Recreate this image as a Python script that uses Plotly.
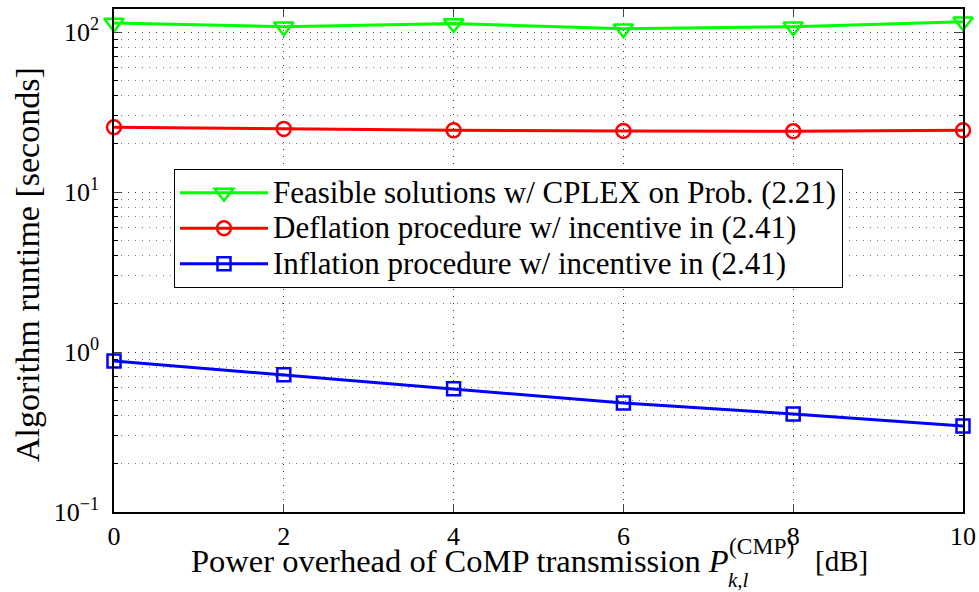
import plotly.graph_objects as go

x_db = [0, 2, 4, 6, 8, 10]
feasible = [114, 108, 113, 105, 108, 116]
deflation = [25.4, 24.8, 24.3, 24.1, 24.0, 24.3]
inflation = [0.88, 0.72, 0.59, 0.48, 0.41, 0.345]

names = ["Feasible solutions w/ CPLEX on Prob. (2.21)",
         "Deflation procedure w/ incentive in (2.41)",
         "Inflation procedure w/ incentive in (2.41)"]
y_tickvals = [0.1, 1, 10, 100]
y_ticktext = ["10<sup>−1</sup>", "10<sup>0</sup>", "10<sup>1</sup>", "10<sup>2</sup>"]
x_tickvals = [0, 2, 4, 6, 8, 10]

FONT = "Liberation Serif"
LEG_SIZE = 31


def big(s):
    return f"<span style='font-size:{LEG_SIZE}px'>{s}</span>"


fig = go.Figure()
fig.add_trace(go.Scatter(x=x_db, y=feasible, name=big(names[0]), mode="lines+markers",
                         cliponaxis=False,
                         line=dict(color="#00ff00", width=3),
                         marker=dict(symbol="triangle-down-open", size=17, line=dict(width=2.5, color="#00ff00"))))
fig.add_trace(go.Scatter(x=x_db, y=deflation, name=big(names[1]), mode="lines+markers",
                         cliponaxis=False,
                         line=dict(color="#ff0000", width=3),
                         marker=dict(symbol="circle-open", size=14, line=dict(width=2.5, color="#ff0000"))))
fig.add_trace(go.Scatter(x=x_db, y=inflation, name=big(names[2]), mode="lines+markers",
                         cliponaxis=False,
                         line=dict(color="#0000ff", width=3),
                         marker=dict(symbol="square-open", size=13, line=dict(width=2.5, color="#0000ff"))))

minor_y = [m * 10 ** e for e in (-1, 0, 1) for m in range(2, 10)]

L, R, T, B = 114, 16, 9, 80
W, H = 979, 592
pw, ph = W - L - R, H - T - B


def px(xp):
    return (xp - L) / pw


def py(yp):
    return (H - B - yp) / ph


fig.update_layout(
    width=W, height=H,
    margin=dict(l=L, r=R, t=T, b=B, autoexpand=False),
    paper_bgcolor="white", plot_bgcolor="white",
    font=dict(family=FONT, size=26, color="black"),
    showlegend=True,
    legend=dict(x=px(174), y=py(169), xanchor="left", yanchor="top",
                bordercolor="black", borderwidth=1, bgcolor="white",
                font=dict(family=FONT, size=25), itemwidth=88, tracegroupgap=0),
    xaxis=dict(range=[0, 10], tickvals=x_tickvals, ticks="inside", ticklen=8,
               mirror="ticks", showline=True, linecolor="black", linewidth=1.5,
               showgrid=True, gridcolor="#333", griddash="1px,6px", gridwidth=1,
               zeroline=False, tickfont=dict(size=26), title=None, automargin=False),
    yaxis=dict(type="log", range=[-1, 2.144], tickvals=y_tickvals, ticktext=y_ticktext,
               ticks="inside", ticklen=8, mirror="ticks", showline=True,
               linecolor="black", linewidth=1.5, ticklabelstandoff=8,
               showgrid=True, gridcolor="#333", griddash="1px,6px", gridwidth=1,
               zeroline=False, tickfont=dict(size=26), title=None, automargin=False,
               minor=dict(tickvals=minor_y, ticks="inside", ticklen=4, tickcolor="black",
                          showgrid=True, gridcolor="#777", griddash="1px,6px", gridwidth=1)),
)


def note(text, xp, yp, size, xanchor="left", angle=0):
    fig.add_annotation(text=text, x=px(xp), y=py(yp), xanchor=xanchor, yanchor="middle",
                       xref="paper", yref="paper", showarrow=False, textangle=angle,
                       font=dict(family=FONT, size=size, color="black"))


note("Algorithm runtime [seconds]", 27, 265, 34, xanchor="center", angle=-90)
note("Power overhead of CoMP transmission <i>P</i>", 731, 561, 32.5, xanchor="right")
note("(CMP)", 727, 546, 23.5)
note("<i>k,l</i>", 726, 580, 21)
note("[dB]", 813, 561, 29)

fig.write_html("out.html", config={"displayModeBar": False},
               post_script="document.body.style.margin='0';")
